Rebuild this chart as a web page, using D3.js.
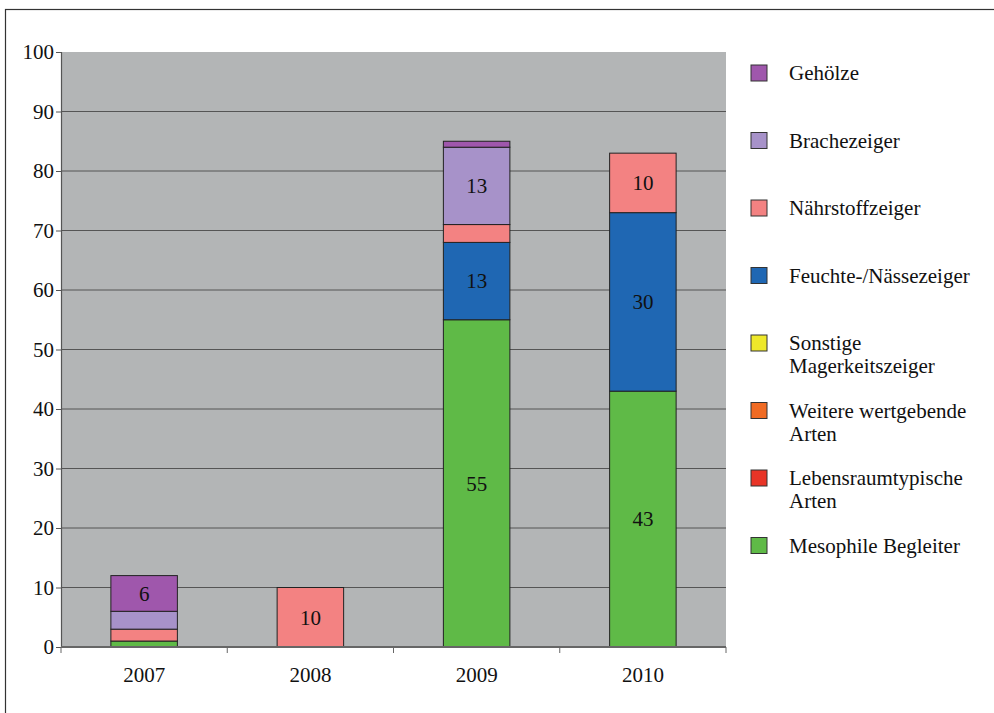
<!DOCTYPE html>
<html>
<head>
<meta charset="utf-8">
<script src="https://cdn.jsdelivr.net/npm/d3@7"></script>
<style>
  body { margin: 0; background: #fff; }
  svg text { font-family: "Times New Roman", Tinos, Times, "Liberation Serif", "DejaVu Serif", serif; fill: #111; }
</style>
</head>
<body>
<div id="chart"></div>
<script>
// data, bottom of stack first
const years = ['2007', '2008', '2009', '2010'];
const mesophile = [1, 0, 55, 43];
const lebensraum = [0, 0, 0, 0];
const weitere = [0, 0, 0, 0];
const sonstige = [0, 0, 0, 0];
const feuchte = [0, 0, 13, 30];
const naehrstoff = [2, 10, 3, 10];
const brache = [3, 0, 13, 0];
const gehoelze = [6, 0, 1, 0];

const seriesKeys = ['mesophile', 'lebensraum', 'weitere', 'sonstige', 'feuchte', 'naehrstoff', 'brache', 'gehoelze'];
const seriesValues = { mesophile, lebensraum, weitere, sonstige, feuchte, naehrstoff, brache, gehoelze };
const seriesLabels = {
    mesophile: ['Mesophile Begleiter'],
    lebensraum: ['Lebensraumtypische', 'Arten'],
    weitere: ['Weitere wertgebende', 'Arten'],
    sonstige: ['Sonstige', 'Magerkeitszeiger'],
    feuchte: ['Feuchte-/Nässezeiger'],
    naehrstoff: ['Nährstoffzeiger'],
    brache: ['Brachezeiger'],
    gehoelze: ['Gehölze']
};
const colors = {
    mesophile: '#5fba47',
    lebensraum: '#e83427',
    weitere: '#f06b24',
    sonstige: '#eee82a',
    feuchte: '#1f67b3',
    naehrstoff: '#f38282',
    brache: '#a792c9',
    gehoelze: '#9f57ac'
};
const yTicks = [0, 10, 20, 30, 40, 50, 60, 70, 80, 90, 100];

const serif = '"Times New Roman", Tinos, Times, "Liberation Serif", "DejaVu Serif", serif';
const width = 994, height = 713;
const margin = { top: 52, left: 61, right: 268, bottom: 66 };
const graphWidth = width - margin.left - margin.right;
const graphHeight = height - margin.top - margin.bottom;

const svg = d3.select('#chart').append('svg').attr('width', width).attr('height', height);

// outer frame
svg.append('rect')
    .attr('x', 5.5).attr('y', 9.5)
    .attr('width', 1000).attr('height', 800)
    .attr('fill', 'none').attr('stroke', '#333').attr('stroke-width', 1.2);

const graph = svg.append('g').attr('transform', `translate(${margin.left}, ${margin.top})`);

const xScale = d3.scaleBand().domain(years).range([0, graphWidth]).paddingInner(0.6).paddingOuter(0.3);
const yScale = d3.scaleLinear().domain([0, 100]).range([graphHeight, 0]);

graph.append('rect')
    .attr('width', graphWidth).attr('height', graphHeight)
    .attr('fill', '#b3b5b6');

// gridlines
graph.append('g')
    .selectAll('line')
    .data(yTicks.filter((d) => d > 0 && d < 100))
    .enter()
    .append('line')
    .attr('x1', 0).attr('x2', graphWidth)
    .attr('y1', (d) => yScale(d)).attr('y2', (d) => yScale(d))
    .attr('stroke', '#555').attr('stroke-width', 1);

// y axis
const yAxis = graph.append('g')
    .call(d3.axisLeft(yScale).tickValues(yTicks).tickSize(5).tickPadding(2))
    .attr('font-family', serif);
yAxis.select('.domain').attr('stroke', '#555').attr('stroke-width', 1.2);
yAxis.selectAll('.tick line').attr('stroke', '#555');
yAxis.selectAll('text').attr('font-size', 21).attr('fill', '#111');

// stacks
const table = years.map((y, i) => {
    const row = { period: y };
    seriesKeys.forEach((k) => { row[k] = seriesValues[k][i]; });
    return row;
});
const series = d3.stack().keys(seriesKeys)(table);

const layers = graph.append('g')
    .selectAll('g')
    .data(series)
    .enter()
    .append('g')
    .attr('fill', (d) => colors[d.key]);

layers.selectAll('rect')
    .data((d) => d.filter((s) => s[1] - s[0] > 0))
    .enter()
    .append('rect')
    .attr('x', (d) => xScale(d.data.period))
    .attr('width', xScale.bandwidth())
    .attr('y', (d) => yScale(d[1]))
    .attr('height', (d) => yScale(d[0]) - yScale(d[1]))
    .attr('stroke', '#222')
    .attr('stroke-width', 1);

layers.selectAll('text')
    .data((d) => d.filter((s) => s[1] - s[0] >= 6))
    .enter()
    .append('text')
    .attr('x', (d) => xScale(d.data.period) + xScale.bandwidth() / 2)
    .attr('y', (d) => yScale((d[0] + d[1]) / 2))
    .attr('dy', '0.35em')
    .attr('text-anchor', 'middle')
    .attr('font-size', 21)
    .text((d) => d[1] - d[0]);

// x axis with ticks at band boundaries
const bandStep = xScale.step();
const xAxis = graph.append('g').attr('transform', `translate(0, ${graphHeight})`);
xAxis.append('line')
    .attr('x1', 0).attr('x2', graphWidth)
    .attr('stroke', '#666').attr('stroke-width', 2);
xAxis.selectAll('.sep')
    .data(d3.range(years.length + 1))
    .enter()
    .append('line')
    .attr('x1', (i) => i * bandStep).attr('x2', (i) => i * bandStep)
    .attr('y1', 0).attr('y2', 6)
    .attr('stroke', '#666');
xAxis.selectAll('text')
    .data(years)
    .enter()
    .append('text')
    .attr('x', (d) => xScale(d) + xScale.bandwidth() / 2)
    .attr('y', 28)
    .attr('dy', '0.35em')
    .attr('text-anchor', 'middle')
    .attr('font-size', 21)
    .text((d) => d);

// legend, top entry first
const legend = svg.append('g').attr('transform', 'translate(751, 73)');
const legendItems = legend.selectAll('g')
    .data(seriesKeys.slice().reverse())
    .enter()
    .append('g')
    .attr('transform', (d, i) => `translate(0, ${i * 67.5})`);

legendItems.append('rect')
    .attr('x', 0).attr('y', -8)
    .attr('width', 16).attr('height', 16)
    .attr('fill', (d) => colors[d])
    .attr('stroke', '#333').attr('stroke-width', 1);

legendItems.append('text')
    .attr('x', 38)
    .attr('font-size', 21)
    .selectAll('tspan')
    .data((d) => seriesLabels[d])
    .enter()
    .append('tspan')
    .attr('x', 38)
    .attr('y', (d, i) => i * 23)
    .attr('dy', '0.35em')
    .text((d) => d);
</script>
</body>
</html>
